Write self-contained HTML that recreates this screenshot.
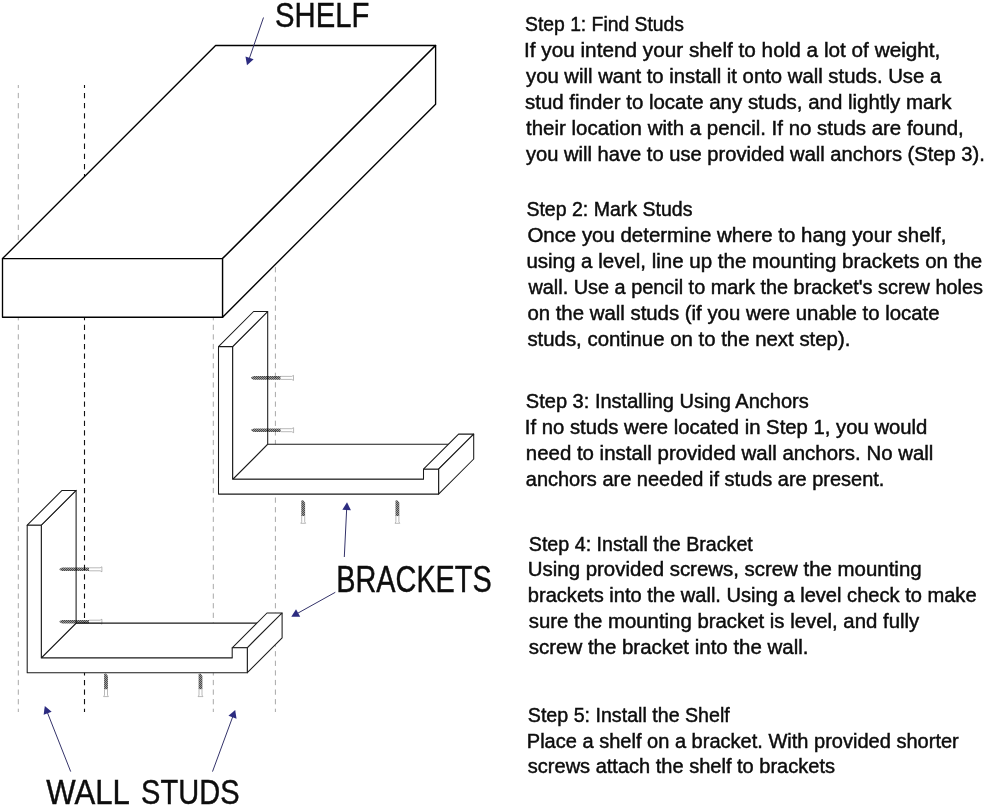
<!DOCTYPE html>
<html><head><meta charset="utf-8"><title>Shelf installation</title>
<style>
html,body{margin:0;padding:0;background:#fff;width:985px;height:806px;overflow:hidden}
svg{display:block}
text{font-family:"Liberation Sans",sans-serif;fill:#0d0d0d;stroke:#0d0d0d;stroke-width:0.45px}
.tx{filter:grayscale(100%)}
</style></head><body>
<svg width="985" height="806" viewBox="0 0 985 806">
<line x1="18.3" y1="85" x2="18.3" y2="259" stroke="#a8a8a8" stroke-width="1.0" stroke-dasharray="5.3 4.840" stroke-dashoffset="2.240"/>
<line x1="18.3" y1="316" x2="18.3" y2="712" stroke="#a8a8a8" stroke-width="1.0" stroke-dasharray="5.25 4.350" stroke-dashoffset="0.900"/>
<line x1="84.5" y1="85" x2="84.5" y2="259" stroke="#111" stroke-width="1.1" stroke-dasharray="5.3 4.840" stroke-dashoffset="2.240"/>
<line x1="84.5" y1="316" x2="84.5" y2="712" stroke="#111" stroke-width="1.1" stroke-dasharray="5.25 4.350" stroke-dashoffset="0.900"/>
<line x1="213.3" y1="316" x2="213.3" y2="712" stroke="#a8a8a8" stroke-width="1.0" stroke-dasharray="5.25 4.350" stroke-dashoffset="0.900"/>
<line x1="275.4" y1="262" x2="275.4" y2="712" stroke="#a8a8a8" stroke-width="1.0" stroke-dasharray="5.25 4.350" stroke-dashoffset="4.500"/>
<g fill="#fff" stroke="#000" stroke-width="1.35" stroke-linejoin="round">
<polygon points="2.50,258.60 215.60,45.50 435.60,45.50 222.60,258.60"/>
<polygon points="2.50,258.60 222.60,258.60 222.60,317.20 2.50,317.20"/>
<polygon points="222.60,258.60 435.60,45.50 435.60,104.20 222.60,317.20"/>
</g>
<g fill="#fff" stroke="#1a1a1a" stroke-width="1.05" stroke-linejoin="round">
<polygon points="232.60,479.30 267.70,444.20 458.60,444.20 423.50,479.30"/>
<polygon points="232.60,346.60 267.70,311.50 267.70,444.20 232.60,479.30"/>
<polygon points="218.50,346.60 253.60,311.50 267.70,311.50 232.60,346.60"/>
<polygon points="423.50,469.20 458.60,434.10 473.70,434.10 438.60,469.20"/>
<polygon points="438.60,469.20 473.70,434.10 473.70,459.00 438.60,494.10"/>
<polygon points="218.50,346.60 232.60,346.60 232.60,479.30 423.50,479.30 423.50,469.20 438.60,469.20 438.60,494.10 218.50,494.10"/>
</g>
<g fill="#fff" stroke="#1a1a1a" stroke-width="1.05" stroke-linejoin="round">
<polygon points="41.30,657.90 76.10,623.10 267.00,623.10 232.20,657.90"/>
<polygon points="41.30,525.20 76.10,490.40 76.10,623.10 41.30,657.90"/>
<polygon points="27.20,525.20 62.00,490.40 76.10,490.40 41.30,525.20"/>
<polygon points="232.20,647.80 267.00,613.00 282.10,613.00 247.30,647.80"/>
<polygon points="247.30,647.80 282.10,613.00 282.10,637.90 247.30,672.70"/>
<polygon points="27.20,525.20 41.30,525.20 41.30,657.90 232.20,657.90 232.20,647.80 247.30,647.80 247.30,672.70 27.20,672.70"/>
</g>
<defs><pattern id="thr" width="2" height="2" patternUnits="userSpaceOnUse"><rect width="2" height="2" fill="#9a9a9a"/><rect width="1" height="1" fill="#4a4a4a"/><rect x="1" y="1" width="1" height="1" fill="#4a4a4a"/></pattern></defs>
<g style="mix-blend-mode:multiply">
<path d="M251.20,377.30 L253.70,376.10 L280.70,376.10 L280.70,379.70 L253.70,379.70 L251.20,378.50Z" fill="url(#thr)"/>
<path d="M280.70,376.40 L291.70,376.40 L293.50,375.40 L293.50,380.40 L291.70,379.40 L280.70,379.40" fill="#fff" stroke="#8a8a8a" stroke-width="0.6"/>
<path d="M251.30,429.60 L253.80,428.40 L280.80,428.40 L280.80,432.00 L253.80,432.00 L251.30,430.80Z" fill="url(#thr)"/>
<path d="M280.80,428.70 L291.80,428.70 L293.60,427.70 L293.60,432.70 L291.80,431.70 L280.80,431.70" fill="#fff" stroke="#8a8a8a" stroke-width="0.6"/>
<path d="M59.60,568.70 L62.10,567.50 L89.10,567.50 L89.10,571.10 L62.10,571.10 L59.60,569.90Z" fill="url(#thr)"/>
<path d="M89.10,567.80 L100.10,567.80 L101.90,566.80 L101.90,571.80 L100.10,570.80 L89.10,570.80" fill="#fff" stroke="#8a8a8a" stroke-width="0.6"/>
<path d="M59.60,621.10 L62.10,619.90 L89.10,619.90 L89.10,623.50 L62.10,623.50 L59.60,622.30Z" fill="url(#thr)"/>
<path d="M89.10,620.20 L100.10,620.20 L101.90,619.20 L101.90,624.20 L100.10,623.20 L89.10,623.20" fill="#fff" stroke="#8a8a8a" stroke-width="0.6"/>
<path d="M301.30,500.60 L303.20,500.30 L305.10,502.80 L305.10,516.30 L301.30,516.30Z" fill="url(#thr)"/>
<path d="M301.70,516.30 L301.70,521.80 L300.80,523.30 L305.60,523.30 L304.70,521.80 L304.70,516.30" fill="#fff" stroke="#8a8a8a" stroke-width="0.6"/>
<path d="M395.50,500.60 L397.40,500.30 L399.30,502.80 L399.30,516.30 L395.50,516.30Z" fill="url(#thr)"/>
<path d="M395.90,516.30 L395.90,521.80 L395.00,523.30 L399.80,523.30 L398.90,521.80 L398.90,516.30" fill="#fff" stroke="#8a8a8a" stroke-width="0.6"/>
<path d="M104.10,673.90 L106.00,673.60 L107.90,676.10 L107.90,689.60 L104.10,689.60Z" fill="url(#thr)"/>
<path d="M104.50,689.60 L104.50,695.10 L103.60,696.60 L108.40,696.60 L107.50,695.10 L107.50,689.60" fill="#fff" stroke="#8a8a8a" stroke-width="0.6"/>
<path d="M198.60,673.90 L200.50,673.60 L202.40,676.10 L202.40,689.60 L198.60,689.60Z" fill="url(#thr)"/>
<path d="M199.00,689.60 L199.00,695.10 L198.10,696.60 L202.90,696.60 L202.00,695.10 L202.00,689.60" fill="#fff" stroke="#8a8a8a" stroke-width="0.6"/>
</g>
<line x1="263.50" y1="17.50" x2="249.22" y2="58.77" stroke="#34336a" stroke-width="1.0"/>
<polygon points="247.00,65.20 245.49,56.42 253.61,59.23" fill="#2c2b80"/>
<line x1="344.30" y1="557.00" x2="346.67" y2="508.99" stroke="#34336a" stroke-width="1.0"/>
<polygon points="347.00,502.20 350.91,510.20 342.32,509.78" fill="#2c2b80"/>
<line x1="335.30" y1="592.30" x2="297.24" y2="613.49" stroke="#34336a" stroke-width="1.0"/>
<polygon points="291.30,616.80 296.02,609.25 300.21,616.76" fill="#2c2b80"/>
<line x1="70.70" y1="771.60" x2="47.30" y2="712.32" stroke="#34336a" stroke-width="1.0"/>
<polygon points="44.80,706.00 51.66,711.68 43.66,714.83" fill="#2c2b80"/>
<line x1="212.50" y1="771.60" x2="232.85" y2="716.38" stroke="#34336a" stroke-width="1.0"/>
<polygon points="235.20,710.00 236.54,718.81 228.47,715.83" fill="#2c2b80"/>
<g class="tx" font-size="19.6">
<text x="525.00" y="30.80" textLength="159.00" lengthAdjust="spacingAndGlyphs">Step 1: Find Studs</text>
<text x="524.00" y="56.76" textLength="416.40" lengthAdjust="spacingAndGlyphs">If you intend your shelf to hold a lot of weight,</text>
<text x="526.00" y="82.72" textLength="415.20" lengthAdjust="spacingAndGlyphs">you will want to install it onto wall studs. Use a</text>
<text x="525.00" y="108.68" textLength="426.40" lengthAdjust="spacingAndGlyphs">stud finder to locate any studs, and lightly mark</text>
<text x="526.00" y="134.64" textLength="437.80" lengthAdjust="spacingAndGlyphs">their location with a pencil. If no studs are found,</text>
<text x="526.00" y="160.60" textLength="458.80" lengthAdjust="spacingAndGlyphs">you will have to use provided wall anchors (Step 3).</text>
<text x="526.40" y="215.50" textLength="166.00" lengthAdjust="spacingAndGlyphs">Step 2: Mark Studs</text>
<text x="527.40" y="241.52" textLength="419.00" lengthAdjust="spacingAndGlyphs">Once you determine where to hang your shelf,</text>
<text x="526.40" y="267.54" textLength="455.80" lengthAdjust="spacingAndGlyphs">using a level, line up the mounting brackets on the</text>
<text x="528.40" y="293.56" textLength="454.60" lengthAdjust="spacingAndGlyphs">wall. Use a pencil to mark the bracket&#39;s screw holes</text>
<text x="527.40" y="319.58" textLength="412.20" lengthAdjust="spacingAndGlyphs">on the wall studs (if you were unable to locate</text>
<text x="527.40" y="345.60" textLength="323.00" lengthAdjust="spacingAndGlyphs">studs, continue on to the next step).</text>
<text x="525.80" y="408.30" textLength="283.00" lengthAdjust="spacingAndGlyphs">Step 3: Installing Using Anchors</text>
<text x="524.80" y="434.27" textLength="402.60" lengthAdjust="spacingAndGlyphs">If no studs were located in Step 1, you would</text>
<text x="525.80" y="460.24" textLength="407.60" lengthAdjust="spacingAndGlyphs">need to install provided wall anchors. No wall</text>
<text x="525.80" y="486.21" textLength="358.60" lengthAdjust="spacingAndGlyphs">anchors are needed if studs are present.</text>
<text x="528.80" y="550.50" textLength="224.00" lengthAdjust="spacingAndGlyphs">Step 4: Install the Bracket</text>
<text x="527.80" y="576.47" textLength="393.80" lengthAdjust="spacingAndGlyphs">Using provided screws, screw the mounting</text>
<text x="527.80" y="602.44" textLength="448.80" lengthAdjust="spacingAndGlyphs">brackets into the wall. Using a level check to make</text>
<text x="528.80" y="628.41" textLength="390.40" lengthAdjust="spacingAndGlyphs">sure the mounting bracket is level, and fully</text>
<text x="528.80" y="654.38" textLength="279.60" lengthAdjust="spacingAndGlyphs">screw the bracket into the wall.</text>
<text x="527.80" y="721.60" textLength="202.00" lengthAdjust="spacingAndGlyphs">Step 5: Install the Shelf</text>
<text x="526.80" y="747.50" textLength="432.00" lengthAdjust="spacingAndGlyphs">Place a shelf on a bracket. With provided shorter</text>
<text x="527.80" y="773.40" textLength="307.20" lengthAdjust="spacingAndGlyphs">screws attach the shelf to brackets</text>
<text x="275.10" y="26.90" font-size="35.8" textLength="94.20" lengthAdjust="spacingAndGlyphs">SHELF</text>
<text x="336.30" y="591.90" font-size="36.2" textLength="155.40" lengthAdjust="spacingAndGlyphs">BRACKETS</text>
<text x="46.20" y="803.70" font-size="35.8" textLength="83.70" lengthAdjust="spacingAndGlyphs">WALL</text>
<text x="141.10" y="803.70" font-size="35.8" textLength="98.40" lengthAdjust="spacingAndGlyphs">STUDS</text>
</g>
</svg>
</body></html>
